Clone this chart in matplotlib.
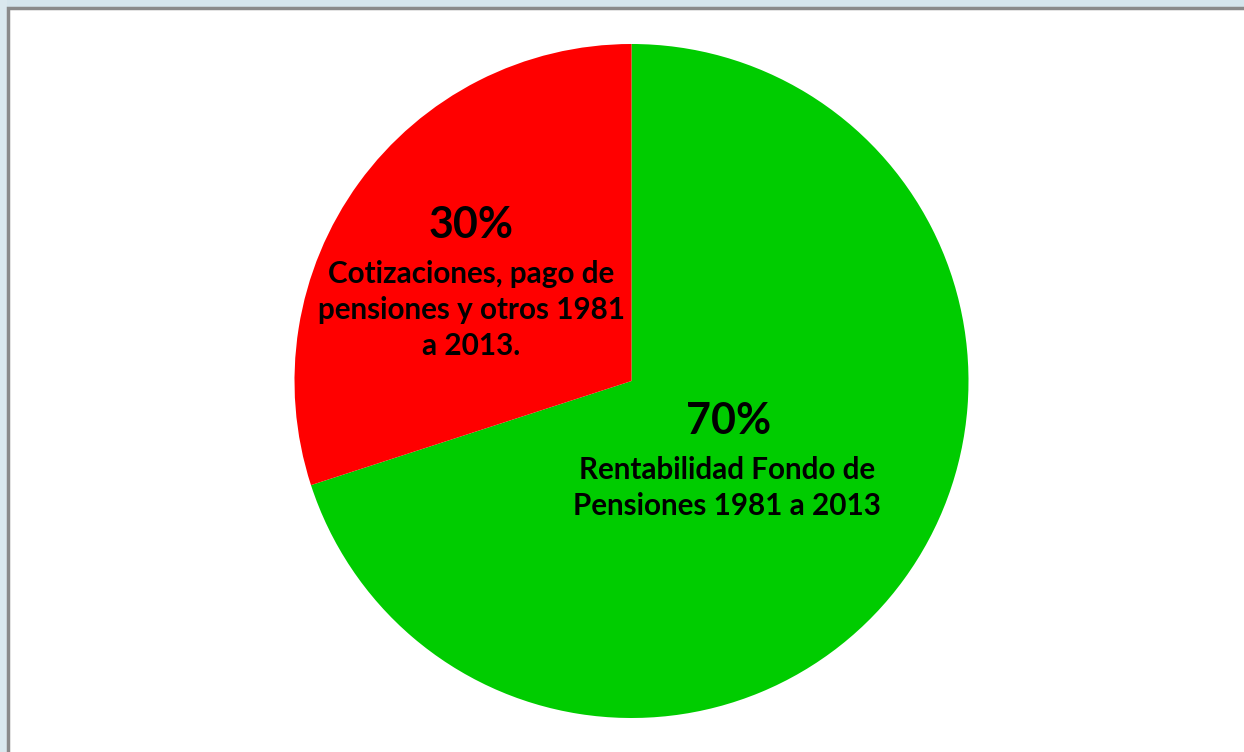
import matplotlib.pyplot as plt
from matplotlib.patches import Rectangle

labels = ["Rentabilidad Fondo de\nPensiones 1981 a 2013",
          "Cotizaciones, pago de\npensiones y otros 1981\na 2013."]
shares = [70, 30]
colors = ["#00CC00", "#FF0000"]

W, H = 1244, 752
fig = plt.figure(figsize=(W / 100, H / 100), dpi=100)
fig.patch.set_facecolor("white")
ax = fig.add_axes([0, 0, 1, 1])

# pale window strip on the top and left, grey edge along the white panel
ax.add_patch(Rectangle((0, H - 7), W, 7, facecolor="#D5E5EC", edgecolor="none", zorder=0))
ax.add_patch(Rectangle((0, 0), 7, H, facecolor="#DAE8EE", edgecolor="none", zorder=0))
ax.plot([8, 8, W], [0, H - 8, H - 8], color="#8A8A8A", linewidth=2.5,
        solid_joinstyle="miter", zorder=1)

cx, cy, r = 631.5, H - 381, 337
wedges, _ = ax.pie(shares, colors=colors, startangle=90, counterclock=False,
                   center=(cx, cy), radius=r, frame=True,
                   wedgeprops=dict(linewidth=0))
for w in wedges:
    w.set_zorder(2)

# label positions (pixels from top-left)
pct_pos = [(729, 421), (471, 225)]
txt_pos = [(727, 488), (471, 310)]
for s, lab, (px, py), (tx, ty) in zip(shares, labels, pct_pos, txt_pos):
    ax.text(px, H - py, f"{s}%", ha="center", va="center", fontsize=31,
            fontweight="bold", family="Lato", zorder=3)
    ax.text(tx, H - ty, lab, ha="center", va="center", fontsize=21.3,
            fontweight="bold", family="Lato", linespacing=1.36, zorder=3)

ax.set_xlim(0, W)
ax.set_ylim(0, H)
ax.set_aspect("equal")
ax.axis("off")
fig.savefig("out.png", dpi=100)
